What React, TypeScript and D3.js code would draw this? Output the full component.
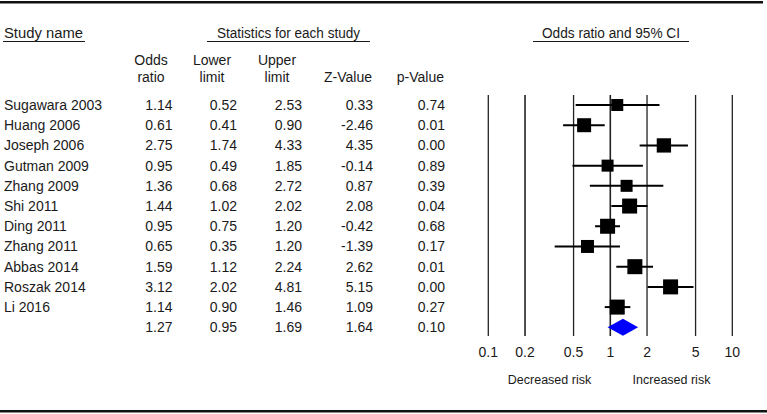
import React from "react";
import * as d3 from "d3";

const studies = ["Sugawara 2003", "Huang 2006", "Joseph 2006", "Gutman 2009", "Zhang 2009", "Shi 2011", "Ding 2011", "Zhang 2011", "Abbas 2014", "Roszak 2014", "Li 2016", ""];
const oddsRatio = [1.14, 0.61, 2.75, 0.95, 1.36, 1.44, 0.95, 0.65, 1.59, 3.12, 1.14, 1.27];
const lowerLimit = [0.52, 0.41, 1.74, 0.49, 0.68, 1.02, 0.75, 0.35, 1.12, 2.02, 0.90, 0.95];
const upperLimit = [2.53, 0.90, 4.33, 1.85, 2.72, 2.02, 1.20, 1.20, 2.24, 4.81, 1.46, 1.69];
const zValue = ["0.33", "-2.46", "4.35", "-0.14", "0.87", "2.08", "-0.42", "-1.39", "2.62", "5.15", "1.09", "1.64"];
const pValue = ["0.74", "0.01", "0.00", "0.89", "0.39", "0.04", "0.68", "0.17", "0.01", "0.00", "0.27", "0.10"];
const weights = [6.4, 8.7, 9.1, 6.4, 6.4, 10, 10, 7.5, 10, 10, 10];
const ticks = [0.1, 0.2, 0.5, 1, 2, 5, 10];
const tickLabels = ["0.1", "0.2", "0.5", "1", "2", "5", "10"];

const FONT = "'Liberation Sans', Arial, sans-serif";

export default function App() {
  const W = 767, H = 414;
  const x = d3.scaleLog().domain([0.1, 10]).range([488.3, 732.3]);
  const y = d3.scaleLinear().domain([0, 11]).range([105, 327.3]);
  const size = d3.scaleSqrt().domain([0, 10]).range([0, 15]);
  const fmt = d3.format(".2f");
  const cols = [
    { x: 172.5, vals: oddsRatio.map(fmt) },
    { x: 237, vals: lowerLimit.map(fmt) },
    { x: 302, vals: upperLimit.map(fmt) },
    { x: 373, vals: zValue },
    { x: 445, vals: pValue },
  ];
  const txt = "#1a1a1a";
  const n = studies.length;
  const diamondPath = (i: number) => {
    const cy = y(i);
    return `M${x(lowerLimit[i])},${cy}L${x(oddsRatio[i])},${cy - 8.5}L${x(upperLimit[i])},${cy}L${x(oddsRatio[i])},${cy + 8.5}Z`;
  };
  return (
    <svg width={W} height={H} style={{ position: "absolute", left: 0, top: 0, background: "#fff" }} fontFamily={FONT}>
      <rect width={W} height={H} fill="#fff" />
      <line x1={0} x2={763} y1={2.2} y2={2.2} stroke="#111" strokeWidth={2.5} />
      <line x1={0} x2={767} y1={411.3} y2={411.3} stroke="#111" strokeWidth={2.5} />

      <text x={4} y={38} fontSize={14} fill={txt} textLength={79} lengthAdjust="spacingAndGlyphs">Study name</text>
      <line x1={3} x2={85} y1={41.5} y2={41.5} stroke={txt} strokeWidth={1.2} />
      <text x={217} y={38} fontSize={14} fill={txt} textLength={143} lengthAdjust="spacingAndGlyphs">Statistics for each study</text>
      <line x1={207} x2={370} y1={41.5} y2={41.5} stroke={txt} strokeWidth={1.2} />
      <text x={542} y={38} fontSize={14} fill={txt} textLength={138} lengthAdjust="spacingAndGlyphs">Odds ratio and 95% CI</text>
      <line x1={533} x2={689} y1={41.5} y2={41.5} stroke={txt} strokeWidth={1.2} />

      <g fontSize={14} fill={txt} textAnchor="middle">
        <text x={151} y={65}>Odds</text>
        <text x={151} y={82}>ratio</text>
        <text x={212} y={65}>Lower</text>
        <text x={212} y={82}>limit</text>
        <text x={277} y={65}>Upper</text>
        <text x={277} y={82}>limit</text>
      </g>
      <g fontSize={14} fill={txt} textAnchor="end">
        <text x={372} y={82}>Z-Value</text>
        <text x={444} y={82}>p-Value</text>
      </g>

      {studies.map((s, i) => (
        <text key={"n" + i} x={4} y={y(i) + 5} fontSize={14} fill={txt}>{s}</text>
      ))}
      {cols.map((c, ci) => (
        <g key={"c" + ci} fontSize={14} fill={txt} textAnchor="end">
          {c.vals.map((v, i) => (
            <text key={i} x={c.x} y={y(i) + 5}>{v}</text>
          ))}
        </g>
      ))}

      {ticks.map((t, i) => (
        <g key={"t" + i}>
          <line x1={x(t)} x2={x(t)} y1={95} y2={336} stroke="#222" strokeWidth={t === 0.2 || t === 1 ? 1.6 : 1.3} />
          <text x={x(t)} y={357} fontSize={14} fill={txt} textAnchor="middle">{tickLabels[i]}</text>
        </g>
      ))}

      {oddsRatio.slice(0, n - 1).map((o, i) => {
        const s = size(weights[i]);
        return (
          <g key={"m" + i}>
            <line x1={x(lowerLimit[i])} x2={x(upperLimit[i])} y1={y(i)} y2={y(i)} stroke="#000" strokeWidth={2} />
            <rect x={x(o) - s / 2} y={y(i) - s / 2} width={s} height={s} fill="#000" />
          </g>
        );
      })}
      <path d={diamondPath(n - 1)} fill="#0000ff" />

      <text x={549.5} y={384} fontSize={12.5} fill={txt} textAnchor="middle">Decreased risk</text>
      <text x={671.5} y={384} fontSize={12.5} fill={txt} textAnchor="middle">Increased risk</text>
    </svg>
  );
}
